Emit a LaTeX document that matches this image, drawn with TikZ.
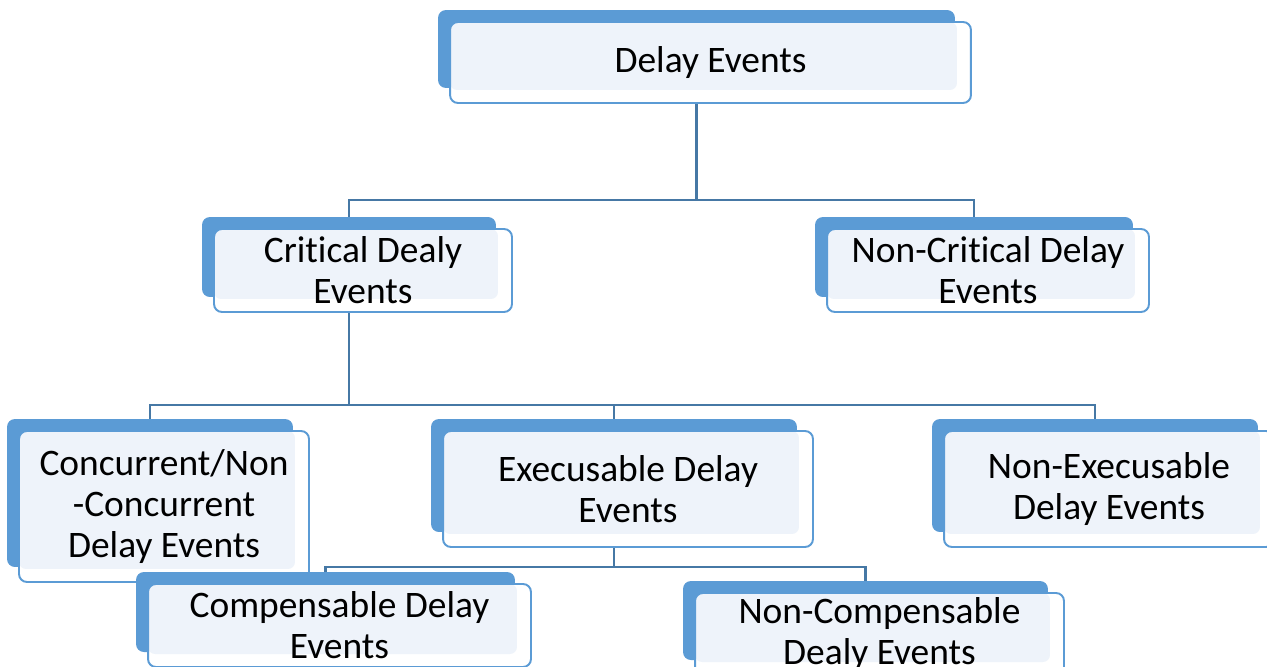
\documentclass[tikz,border=0pt]{standalone}
\usepackage{fontspec}
\setmainfont[Ligatures={NoCommon}]{Carlito}
\usepackage{tikz}
\usetikzlibrary{backgrounds}

\definecolor{boxblue}{RGB}{91,155,213}
\definecolor{paleblue}{RGB}{238,243,250}
\definecolor{linkblue}{RGB}{70,120,165}

\begin{document}
\begin{tikzpicture} [x=0.02cm, y=-0.02cm,
        backbox/.style={rectangle, rounded corners=4.5pt, fill=boxblue, inner sep=0pt, outer sep=0pt},
        frontbox/.style={rectangle, rounded corners=4.5pt, draw=boxblue, line width=1.1pt, fill=white,
            inner sep=0pt, outer sep=0pt, align=center, font=\fontsize{21.3}{23.3}\selectfont,
            path picture={\fill[paleblue, rounded corners=4pt] (path picture bounding box.north west)
                rectangle ([xshift=-0.28cm, yshift=0.26cm]path picture bounding box.south east);}},
        link/.style={draw=linkblue, line width=1.3pt}]
        \useasboundingbox (0, 0) rectangle (1267, 666);

        \node[backbox, minimum width=10.34cm, minimum height=1.56cm] (delay) at (696.5, 49) {};
        \node[frontbox, minimum width=10.42cm, minimum height=1.62cm] (delay-f) at ([shift={(14,13.5)}]delay) {Delay Events};

        \node[backbox, minimum width=5.88cm, minimum height=1.6cm] (critical) at (349, 257) {};
        \node[frontbox, minimum width=5.96cm, minimum height=1.66cm] (critical-f) at ([shift={(14,13.5)}]critical) {Critical Dealy\\Events};

        \node[backbox, minimum width=6.36cm, minimum height=1.6cm] (noncritical) at (974, 257) {};
        \node[frontbox, minimum width=6.44cm, minimum height=1.66cm] (noncritical-f) at ([shift={(14,13.5)}]noncritical) {Non-Critical Delay\\Events};

        \node[backbox, minimum width=5.72cm, minimum height=2.96cm] (concurrent) at (150, 493) {};
        \node[frontbox, minimum width=5.8cm, minimum height=3.02cm] (concurrent-f) at ([shift={(14,13.5)}]concurrent) {Concurrent/Non\\-Concurrent\\Delay Events};

        \node[backbox, minimum width=7.32cm, minimum height=2.26cm] (execusable) at (614, 475.5) {};
        \node[frontbox, minimum width=7.4cm, minimum height=2.32cm] (execusable-f) at ([shift={(14,13.5)}]execusable) {Execusable Delay\\Events};

        \node[backbox, minimum width=6.52cm, minimum height=2.26cm] (nonexec) at (1095, 475.5) {};
        \node[frontbox, minimum width=6.6cm, minimum height=2.32cm] (nonexec-f) at ([shift={(14,13.5)}]nonexec) {Non-Execusable\\Delay Events};

        \node[backbox, minimum width=7.58cm, minimum height=1.6cm] (compensable) at (325.5, 612) {};
        \node[frontbox, minimum width=7.66cm, minimum height=1.66cm] (compensable-f) at ([shift={(14,13.5)}]compensable) {Compensable Delay\\Events};

        \node[backbox, minimum width=7.3cm, minimum height=1.58cm] (noncomp) at (865.5, 620.5) {};
        \node[frontbox, minimum width=7.38cm, minimum height=1.64cm] (noncomp-f) at ([shift={(14,13.5)}]noncomp) {Non-Compensable\\Dealy Events};

        \coordinate (rail1) at (0, 200);
        \coordinate (rail2) at (0, 405);
        \coordinate (rail3) at (0, 567);

        \begin{scope}[on background layer]
            \draw[link] (delay) -- (delay |- rail1) -| (critical.north);
            \draw[link] (delay |- rail1) -| (noncritical.north);
            \draw[link] (critical) -- (critical |- rail2) -| (concurrent.north);
            \draw[link] (critical |- rail2) -| (execusable.north);
            \draw[link] (critical |- rail2) -| (nonexec.north);
            \draw[link] (execusable) -- (execusable |- rail3) -| (compensable.north);
            \draw[link] (execusable |- rail3) -| (noncomp.north);
        \end{scope}
    \end{tikzpicture}
\end{document}
